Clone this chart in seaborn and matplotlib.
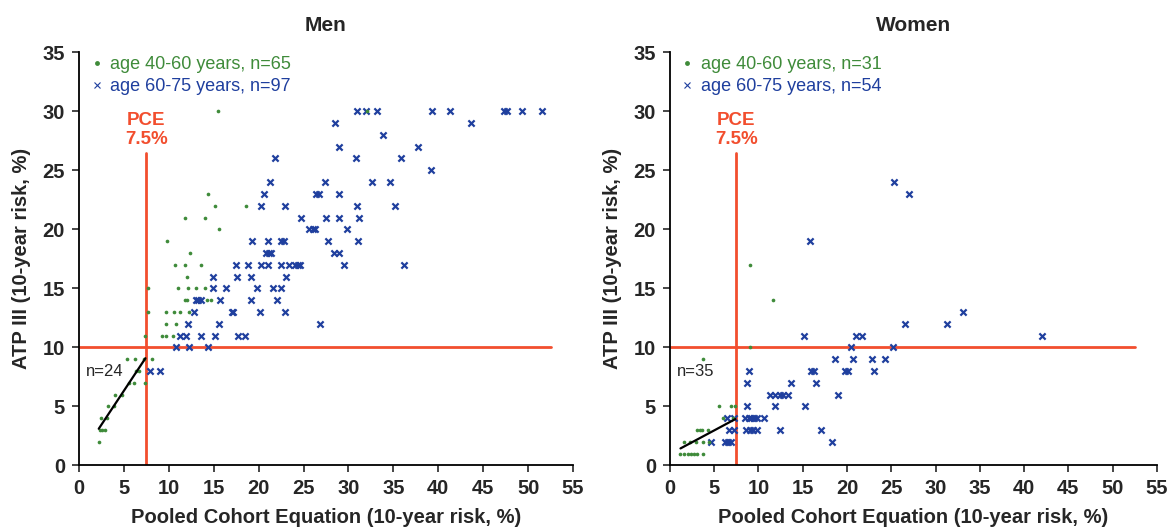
import matplotlib
matplotlib.use("Agg")
import matplotlib.pyplot as plt
from matplotlib.lines import Line2D
import seaborn as sns
import numpy as np
import pandas as pd

# values (x = PCE risk %, y = ATP III risk %)
men_young_x = [15.5, 32.1, 14.4, 15.1, 18.6, 11.8, 14.0, 15.6, 9.8, 12.4,
               10.7, 11.8, 13.6, 12.0, 7.7, 11.0, 12.1, 13.0, 14.0,
               11.8, 12.0, 14.3, 14.7, 7.7, 9.7, 10.6, 11.3, 12.3, 9.7, 10.8,
               7.3, 9.2, 9.7, 10.5, 5.3, 6.2, 7.2, 8.1, 6.4, 6.7, 5.6, 6.1, 7.4,
               4.0, 4.8, 3.2, 3.9, 2.4, 3.1, 2.3, 2.6, 2.9, 2.2]
men_young_y = [30, 30, 23, 22, 22, 21, 21, 20, 19, 18,
               17, 17, 17, 16, 15, 15, 15, 15, 15,
               14, 14, 14, 14, 13, 13, 13, 13, 13, 12, 12,
               11, 11, 11, 11, 9, 9, 9, 9, 8, 8, 7, 7, 7,
               6, 6, 5, 5, 4, 4, 3, 3, 3, 2]

men_old_x = [31.0, 31.9, 33.2, 39.3, 41.3, 47.3, 47.6, 49.3, 51.5,
             28.5, 43.6, 33.8, 29.0, 37.7, 21.8, 30.8, 35.9, 39.2,
             21.3, 27.4, 32.6, 34.6, 20.6, 26.4, 26.7, 29.0,
             20.3, 22.9, 30.9, 35.2, 24.7, 27.5, 28.9, 31.2,
             25.6, 26.0, 26.3, 29.8, 19.3, 21.1, 22.5, 22.8, 27.7, 31.1,
             20.8, 21.2, 21.4, 28.4, 28.9,
             17.5, 18.8, 20.3, 21.0, 22.5, 23.4, 24.1, 24.4, 24.6, 29.5, 36.2,
             14.9, 17.6, 19.2, 23.0, 14.9, 16.4, 19.8, 21.6, 22.5,
             13.0, 13.3, 13.6, 15.7, 19.2, 22.0, 12.8, 17.0, 17.2, 20.2, 22.9,
             12.1, 15.6, 26.8, 11.2, 11.9, 13.6, 15.1, 17.7, 18.5,
             10.8, 12.3, 14.4, 7.9, 9.0]
men_old_y = [30, 30, 30, 30, 30, 30, 30, 30, 30,
             29, 29, 28, 27, 27, 26, 26, 26, 25,
             24, 24, 24, 24, 23, 23, 23, 23,
             22, 22, 22, 22, 21, 21, 21, 21,
             20, 20, 20, 20, 19, 19, 19, 19, 19, 19,
             18, 18, 18, 18, 18,
             17, 17, 17, 17, 17, 17, 17, 17, 17, 17, 17,
             16, 16, 16, 16, 15, 15, 15, 15, 15,
             14, 14, 14, 14, 14, 14, 13, 13, 13, 13, 13,
             12, 12, 12, 11, 11, 11, 11, 11, 11,
             10, 10, 10, 8, 8]

women_young_x = [9.1, 11.7, 9.05, 3.7, 5.6, 6.9, 7.4, 6.0, 7.1,
                 3.1, 3.4, 3.6, 4.3, 1.6, 2.3, 3.0, 3.7, 4.4,
                 1.2, 1.6, 2.0, 2.4, 2.7, 3.1, 3.8]
women_young_y = [17, 14, 10, 9, 5, 5, 5, 4, 4,
                 3, 3, 3, 3, 2, 2, 2, 2, 2,
                 1, 1, 1, 1, 1, 1, 1]

women_old_x = [25.3, 27.0, 15.8, 33.1, 26.5, 31.3, 15.2, 21.0, 21.7, 42.0,
               20.5, 25.2, 18.6, 20.7, 22.8, 24.3,
               8.9, 15.9, 16.3, 19.8, 20.1, 23.1, 8.75, 13.7, 16.5,
               11.3, 11.9, 12.4, 12.8, 13.3, 19.0, 8.7, 11.9, 15.3,
               6.4, 7.25, 8.5, 8.9, 9.2, 9.5, 9.8, 10.6,
               6.7, 7.3, 8.6, 9.05, 9.4, 9.8, 12.4, 17.1,
               4.7, 6.2, 6.6, 6.9, 18.3]
women_old_y = [24, 23, 19, 13, 12, 12, 11, 11, 11, 11,
               10, 10, 9, 9, 9, 9,
               8, 8, 8, 8, 8, 8, 7, 7, 7,
               6, 6, 6, 6, 6, 6, 5, 5, 5,
               4, 4, 4, 4, 4, 4, 4, 4,
               3, 3, 3, 3, 3, 3, 3, 3,
               2, 2, 2, 2, 2]

legend_labels = {"Men": ["age 40-60 years, n=65", "age 60-75 years, n=97"],
                 "Women": ["age 40-60 years, n=31", "age 60-75 years, n=54"]}
quadrant_n = {"Men": "n=24", "Women": "n=35"}
pce_cut = 7.5
atp_cut = 10

def frame(x, y, sex, age):
    return pd.DataFrame({"pce": x, "atp": y, "sex": sex, "age": age})

df = pd.concat([
    frame(men_young_x, men_young_y, "Men", "40-60"),
    frame(men_old_x, men_old_y, "Men", "60-75"),
    frame(women_young_x, women_young_y, "Women", "40-60"),
    frame(women_old_x, women_old_y, "Women", "60-75"),
], ignore_index=True)

GREEN = "#3f8b3a"
BLUE = "#1f3f9e"
RED = "#f24e2e"

sns.set_style("white")
plt.rcParams["font.family"] = ["Liberation Sans", "DejaVu Sans"]

fig = plt.figure(figsize=(11.68, 5.28), dpi=100)
axes = [fig.add_axes([0.0676, 0.1184, 0.423, 0.7827]),
        fig.add_axes([0.5735, 0.1184, 0.417, 0.7827])]

for ax, sex in zip(axes, ["Men", "Women"]):
    sub = df[df["sex"] == sex]
    young = sub[sub["age"] == "40-60"]
    old = sub[sub["age"] == "60-75"]

    # red cut-off lines
    ax.plot([pce_cut, pce_cut], [0, 26.5], color=RED, lw=2, zorder=1)
    ax.plot([0, 52.5], [atp_cut, atp_cut], color=RED, lw=2, zorder=1)

    sns.scatterplot(data=old, x="pce", y="atp", ax=ax, color=BLUE, marker="x",
                    s=20, linewidth=1.6, zorder=3)
    sns.scatterplot(data=young, x="pce", y="atp", ax=ax, color=GREEN, marker="o",
                    s=7, linewidth=0, zorder=4)

    # fitted line through the low-risk quadrant
    low = sub[(sub["pce"] < pce_cut) & (sub["atp"] < atp_cut)]
    sns.regplot(data=low, x="pce", y="atp", ax=ax, scatter=False, ci=None,
                truncate=True, color="black", line_kws={"lw": 1.6, "zorder": 5})

    ax.text(pce_cut, 28.4, "PCE\n7.5%", color=RED, fontsize=13.5, fontweight="bold",
            ha="center", va="center", linespacing=1.2)
    ax.text(0.8, 8.0, quadrant_n[sex], fontsize=12, ha="left", va="center")

    ax.set_xlim(0, 55)
    ax.set_ylim(0, 35)
    ax.set_xticks(np.arange(0, 56, 5))
    ax.set_yticks(np.arange(0, 36, 5))
    ax.tick_params(axis="both", direction="out", length=5, width=1.2,
                   labelsize=14.5, bottom=True, left=True, pad=5)
    for lab in ax.get_xticklabels() + ax.get_yticklabels():
        lab.set_fontweight("bold")
    for side in ["top", "right"]:
        ax.spines[side].set_visible(False)
    for side in ["left", "bottom"]:
        ax.spines[side].set_color("black")
        ax.spines[side].set_linewidth(1.3)

    ax.set_title(sex, fontsize=15, fontweight="bold", pad=15)
    ax.set_xlabel("Pooled Cohort Equation (10-year risk, %)", fontsize=14.5,
                  fontweight="bold", labelpad=7)
    ax.set_ylabel("ATP III (10-year risk, %)", fontsize=14.5, fontweight="bold",
                  labelpad=8)

    handles = [Line2D([], [], ls="none", marker="o", ms=3.5, color=GREEN, mew=0),
               Line2D([], [], ls="none", marker="x", ms=4, color=BLUE, mew=0.8)]
    leg = ax.legend(handles, legend_labels[sex], loc="upper left",
                    bbox_to_anchor=(-0.012, 1.03), frameon=False, fontsize=13,
                    handlelength=0.8, handletextpad=0.35, labelspacing=0.3)
    leg.get_texts()[0].set_color(GREEN)
    leg.get_texts()[1].set_color(BLUE)

fig.savefig("out.png", dpi=100)
